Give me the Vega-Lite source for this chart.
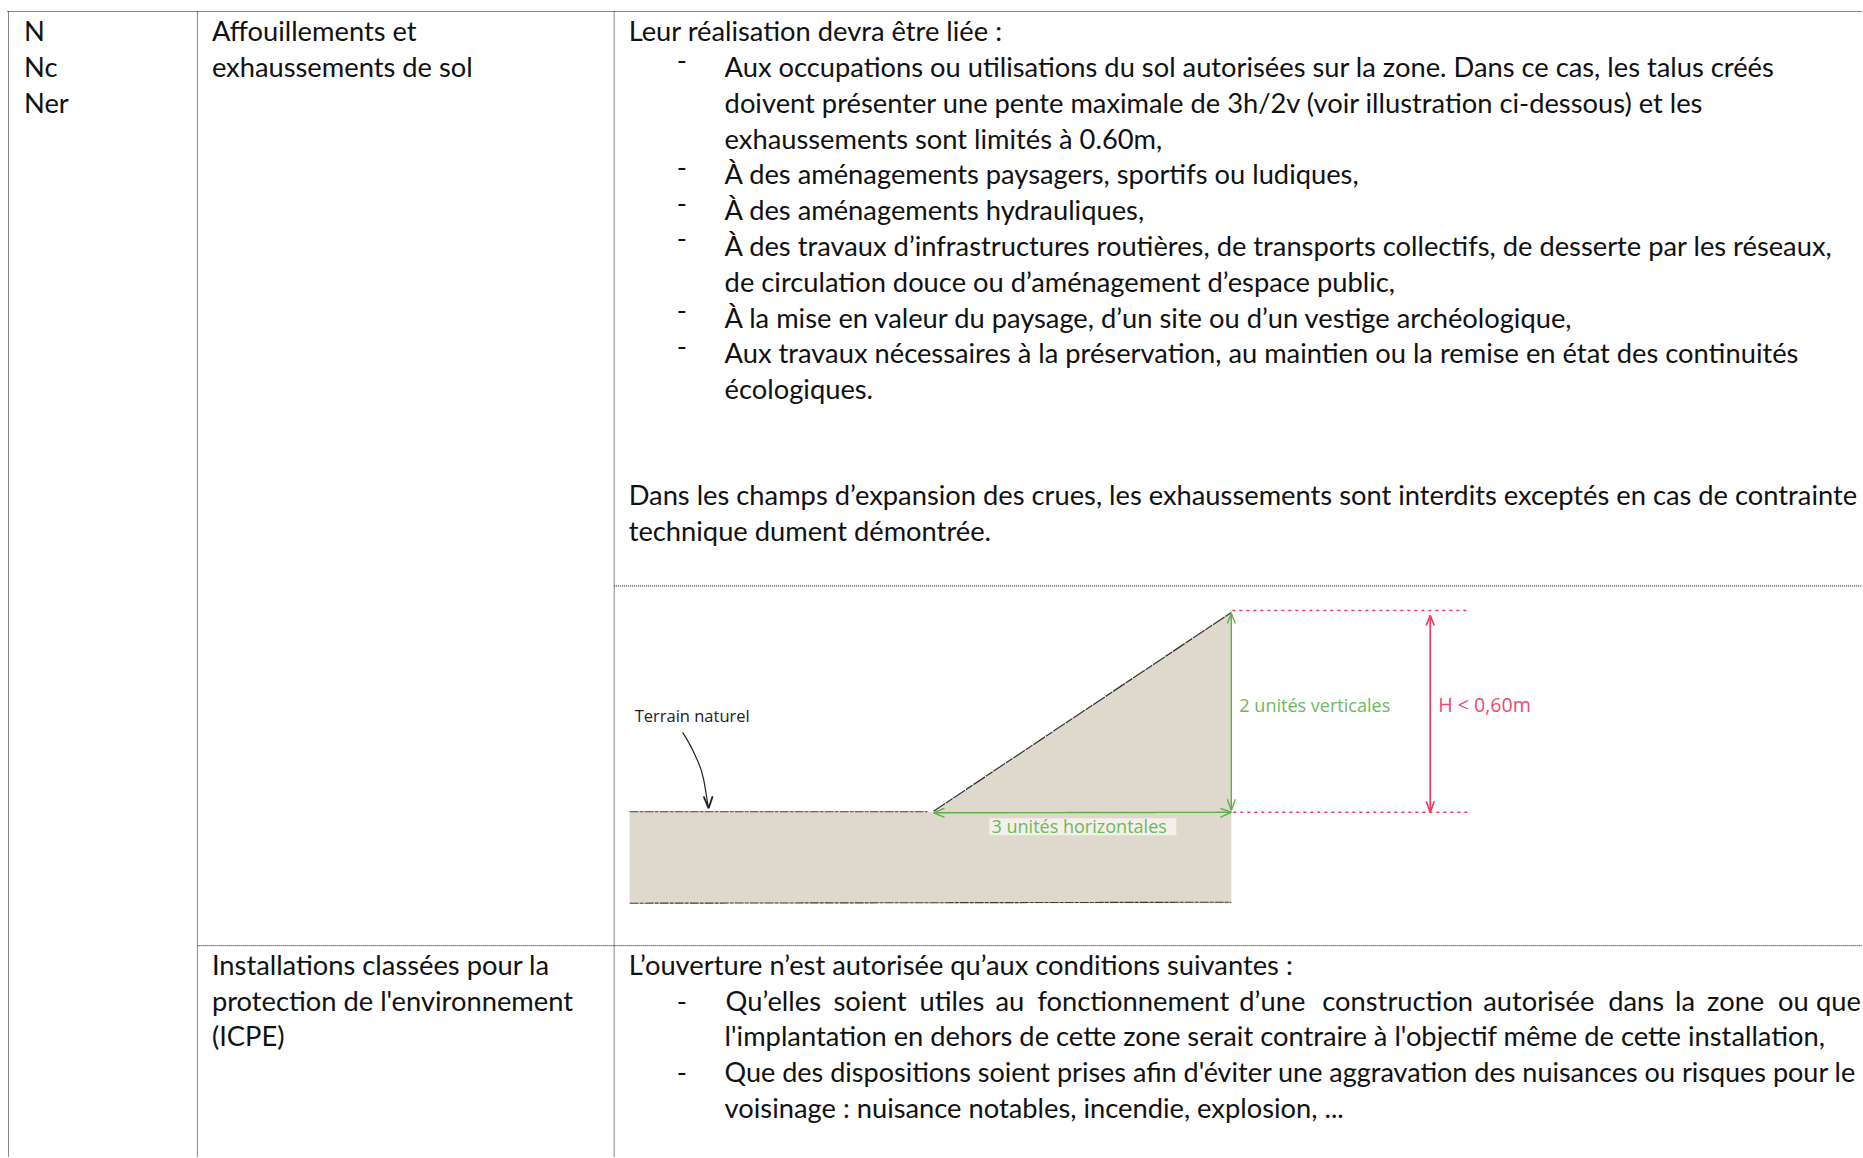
{
"$schema":"https://vega.github.io/schema/vega-lite/v6.json",
"width":1863,"height":1158,"padding":0,
"autosize":{"type":"fit","contains":"padding"},
"background":"white",
"config":{"view":{"stroke":null}},
"datasets":{
"polygon":[{"x":630,"top":813,"bottom":904},{"x":934,"top":813,"bottom":904},{"x":1232,"top":613,"bottom":904}],
"label_bg":[{"x":990,"x2":1177,"y":819,"y2":836}],
"segments":[
{"kind":"table","x":7.5,"y":11.5,"x2":1863,"y2":11.5},
{"kind":"table","x":8.5,"y":11.5,"x2":8.5,"y2":1158},
{"kind":"table","x":197.5,"y":11.5,"x2":197.5,"y2":1158},
{"kind":"table","x":614.5,"y":11.5,"x2":614.5,"y2":1158},
{"kind":"table","x":614.5,"y":586.5,"x2":1863,"y2":586.5},
{"kind":"table","x":197.5,"y":946.5,"x2":1863,"y2":946.5},
{"kind":"ground","x":630,"y":812.5,"x2":928,"y2":812.5},
{"kind":"ground","x":630,"y":904,"x2":1232,"y2":903},
{"kind":"slope","x":934,"y":812,"x2":1232,"y2":613},
{"kind":"green","x":1232,"y":614,"x2":1232,"y2":811},
{"kind":"green","x":936,"y":813.5,"x2":1232,"y2":813},
{"kind":"green","x":1228,"y":624,"x2":1232,"y2":614},
{"kind":"green","x":1236,"y":624,"x2":1232,"y2":614},
{"kind":"green","x":1228,"y":800,"x2":1232,"y2":811},
{"kind":"green","x":1236,"y":800,"x2":1232,"y2":811},
{"kind":"green","x":945,"y":809,"x2":934,"y2":813.5},
{"kind":"green","x":945,"y":818,"x2":934,"y2":813.5},
{"kind":"green","x":1221,"y":809,"x2":1232,"y2":813},
{"kind":"green","x":1221,"y":818,"x2":1232,"y2":813},
{"kind":"pinkdash","x":1233,"y":611,"x2":1468,"y2":611},
{"kind":"pinkdash","x":1234,"y":813,"x2":1468,"y2":813},
{"kind":"pink","x":1431,"y":616,"x2":1431,"y2":813},
{"kind":"pink","x":1427,"y":626,"x2":1431,"y2":616},
{"kind":"pink","x":1435,"y":626,"x2":1431,"y2":616},
{"kind":"pink","x":1427,"y":802,"x2":1431,"y2":813},
{"kind":"pink","x":1435,"y":802,"x2":1431,"y2":813},
{"kind":"pointer","x":704,"y":797,"x2":709,"y2":809},
{"kind":"pointer","x":713,"y":797,"x2":709,"y2":809}
],
"curve":[{"x":683,"y":733},{"x":695,"y":755},{"x":704,"y":780},{"x":708.5,"y":807}],
"body":[
{"x":24,"y":41,"t":"N"},{"x":24,"y":77,"t":"Nc"},{"x":24,"y":113,"t":"Ner"},
{"x":212,"y":41,"t":"Affouillements et"},{"x":212,"y":77,"t":"exhaussements de sol"},
{"x":629,"y":41,"t":"Leur réalisation devra être liée :"},
{"x":725,"y":77,"t":"Aux occupations ou utilisations du sol autorisées sur la zone. Dans ce cas, les talus créés"},
{"x":725,"y":113,"t":"doivent présenter une pente maximale de 3h/2v (voir illustration ci-dessous) et les"},
{"x":725,"y":148.8,"t":"exhaussements sont limités à 0.60m,"},
{"x":725,"y":184.6,"t":"À des aménagements paysagers, sportifs ou ludiques,"},
{"x":725,"y":220.4,"t":"À des aménagements hydrauliques,"},
{"x":725,"y":256.4,"t":"À des travaux d’infrastructures routières, de transports collectifs, de desserte par les réseaux,"},
{"x":725,"y":292,"t":"de circulation douce ou d’aménagement d’espace public,"},
{"x":725,"y":327.8,"t":"À la mise en valeur du paysage, d’un site ou d’un vestige archéologique,"},
{"x":725,"y":363.6,"t":"Aux travaux nécessaires à la préservation, au maintien ou la remise en état des continuités"},
{"x":725,"y":399.6,"t":"écologiques."},
{"x":629,"y":505.6,"t":"Dans les champs d’expansion des crues, les exhaussements sont interdits exceptés en cas de contrainte"},
{"x":629,"y":541.6,"t":"technique dument démontrée."},
{"x":212,"y":975.6,"t":"Installations classées pour la"},
{"x":212,"y":1011.4,"t":"protection de l'environnement"},
{"x":212,"y":1047.2,"t":"(ICPE)"},
{"x":629,"y":975.6,"t":"L’ouverture n’est autorisée qu’aux conditions suivantes :"},
{"x":726,"y":1011.4,"t":"Qu’elles"},{"x":834,"y":1011.4,"t":"soient"},{"x":920,"y":1011.4,"t":"utiles"},{"x":996,"y":1011.4,"t":"au"},{"x":1038,"y":1011.4,"t":"fonctionnement"},{"x":1240,"y":1011.4,"t":"d’une"},{"x":1323,"y":1011.4,"t":"construction"},{"x":1484,"y":1011.4,"t":"autorisée"},{"x":1609,"y":1011.4,"t":"dans"},{"x":1676,"y":1011.4,"t":"la"},{"x":1708,"y":1011.4,"t":"zone"},{"x":1779,"y":1011.4,"t":"ou"},{"x":1817,"y":1011.4,"t":"que"},
{"x":725,"y":1047.2,"t":"l'implantation en dehors de cette zone serait contraire à l'objectif même de cette installation,"},
{"x":725,"y":1119,"t":"voisinage : nuisance notables, incendie, explosion, ..."},
{"x":677,"y":70.5,"t":"-"},{"x":677,"y":177,"t":"-"},{"x":677,"y":212.7,"t":"-"},{"x":677,"y":248.5,"t":"-"},{"x":677,"y":320,"t":"-"},{"x":677,"y":355.9,"t":"-"},
{"x":677,"y":1011.4,"t":"-"},{"x":677,"y":1082.8,"t":"-"}
],
"body_tight":[
{"x":725,"y":1082.8,"t":"Que des dispositions soient prises afin d'éviter une aggravation des nuisances ou risques pour le"}
],
"notes":[
{"x":635,"y":723,"t":"Terrain naturel","kind":"black"},
{"x":1240,"y":713,"t":"2 unités verticales","kind":"green"},
{"x":1439,"y":713,"t":"H < 0,60m","kind":"pink"},
{"x":992,"y":834,"t":"3 unités horizontales","kind":"green"}
]
},
"resolve":{"scale":{"color":"independent","size":"independent"}},
"layer":[
{"data":{"name":"polygon"},"mark":{"type":"area","color":"#dfd8cd","interpolate":"linear"},
"encoding":{"x":{"field":"x","type":"quantitative","scale":{"domain":[0,1863],"nice":false,"zero":false},"axis":null},
"y":{"field":"top","type":"quantitative","scale":{"domain":[0,1158],"reverse":true,"nice":false,"zero":false},"axis":null},
"y2":{"field":"bottom"}}},
{"data":{"name":"label_bg"},"mark":{"type":"rect","color":"#f3f0ea"},
"encoding":{"x":{"field":"x","type":"quantitative","axis":null},"x2":{"field":"x2"},"y":{"field":"y","type":"quantitative","axis":null},"y2":{"field":"y2"}}},
{"data":{"name":"segments"},"mark":{"type":"rule"},
"encoding":{"x":{"field":"x","type":"quantitative","axis":null},"x2":{"field":"x2"},"y":{"field":"y","type":"quantitative","axis":null},"y2":{"field":"y2"},
"color":{"field":"kind","type":"nominal","legend":null,"scale":{"domain":["table","ground","slope","green","pinkdash","pink","pointer"],"range":["#111111","#3a3a3a","#333333","#5cb04a","#ee3a62","#ee3a62","#222222"]}},
"size":{"field":"kind","type":"nominal","legend":null,"scale":{"domain":["table","ground","slope","green","pinkdash","pink","pointer"],"range":[1,1.8,1.8,1.4,2.4,1.2,1.2]}},
"strokeDash":{"field":"kind","type":"nominal","legend":null,"scale":{"domain":["table","ground","slope","green","pinkdash","pink","pointer"],"range":[[1,1],[9,1,4,1],[14,1,8,1],[1,0],[3,4],[1,0],[1,0]]}}}},
{"data":{"name":"curve"},"mark":{"type":"line","color":"#222222","strokeWidth":1.2,"interpolate":"monotone"},
"encoding":{"x":{"field":"x","type":"quantitative","axis":null},"y":{"field":"y","type":"quantitative","axis":null,"sort":null},"order":{"field":"y"}}},
{"data":{"name":"body"},"mark":{"type":"text","font":"Lato","fontSize":27.3,"align":"left","baseline":"alphabetic","color":"#111111","limit":0},
"encoding":{"x":{"field":"x","type":"quantitative","axis":null},"y":{"field":"y","type":"quantitative","axis":null},"text":{"field":"t"}}},
{"data":{"name":"body_tight"},"mark":{"type":"text","font":"Lato","fontSize":27.0,"align":"left","baseline":"alphabetic","color":"#111111","limit":0},
"encoding":{"x":{"field":"x","type":"quantitative","axis":null},"y":{"field":"y","type":"quantitative","axis":null},"text":{"field":"t"}}},
{"data":{"name":"notes"},"mark":{"type":"text","font":"Open Sans","align":"left","baseline":"alphabetic"},
"encoding":{"x":{"field":"x","type":"quantitative","axis":null},"y":{"field":"y","type":"quantitative","axis":null},"text":{"field":"t"},
"color":{"field":"kind","type":"nominal","legend":null,"scale":{"domain":["black","green","pink"],"range":["#222222","#6db85a","#ee4a70"]}},
"size":{"field":"kind","type":"nominal","legend":null,"scale":{"domain":["black","green","pink"],"range":[16.5,19.6,18.4]}}}}
]
}
